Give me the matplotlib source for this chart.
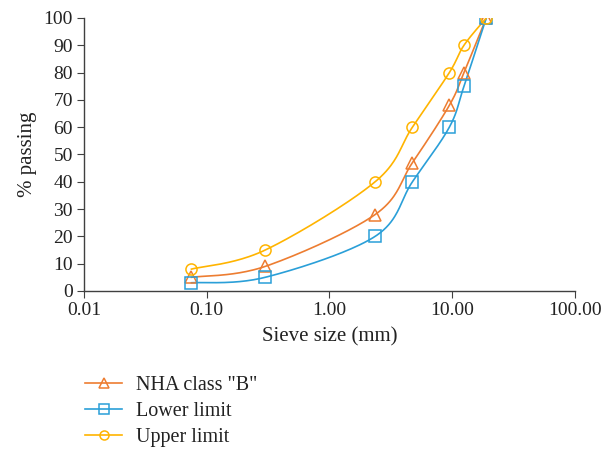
import numpy as np
import matplotlib
matplotlib.use("Agg")
import matplotlib.pyplot as plt
from matplotlib.lines import Line2D

# sieve sizes (mm) and % passing
sieve = [0.075, 0.3, 2.36, 4.75, 9.5, 12.5, 19.0]
nha = [5, 9, 28, 47, 68, 80, 100]
lower = [3, 5, 20, 40, 60, 75, 100]
upper = [8, 15, 40, 60, 80, 90, 100]

labels = ['NHA class "B"', "Lower limit", "Upper limit"]
colors = ["#ED7D31", "#2A9FD8", "#FFB400"]
markers = ["^", "s", "o"]


def smooth(xs, ys, n=40):
    # Catmull-Rom through points in (log x, y), like a spreadsheet smoothed line
    lx = np.log10(xs)
    ys = np.asarray(ys, float)
    px = np.concatenate([[lx[0]], lx, [lx[-1]]])
    py = np.concatenate([[ys[0]], ys, [ys[-1]]])
    outx, outy = [], []
    t = np.linspace(0, 1, n)
    for i in range(1, len(px) - 2):
        p0, p1, p2, p3 = [np.array([px[j], py[j]]) for j in (i - 1, i, i + 1, i + 2)]
        c1 = p1 + (p2 - p0) / 6
        c2 = p2 - (p3 - p1) / 6
        b = ((1 - t) ** 3)[:, None] * p1 + (3 * (1 - t) ** 2 * t)[:, None] * c1 \
            + (3 * (1 - t) * t ** 2)[:, None] * c2 + (t ** 3)[:, None] * p2
        outx.append(b[:, 0])
        outy.append(b[:, 1])
    return 10 ** np.concatenate(outx), np.concatenate(outy)


plt.rcParams["font.family"] = ["Liberation Serif", "DejaVu Serif"]
fig = plt.figure(figsize=(6.05, 4.49), dpi=100)
ax = fig.add_axes([0.139, 0.352, 0.811, 0.608])

handles = []
for vals, lab, c, m in zip([nha, lower, upper], labels, colors, markers):
    sx, sy = smooth(sieve, vals)
    ax.plot(sx, sy, color=c, lw=1.2, zorder=2)
    ax.plot(sieve, vals, ls="none", marker=m, ms=8, mfc="none", mec=c, mew=1.1, zorder=3)
    handles.append(Line2D([], [], color=c, lw=1.2, marker=m, ms=6.5, mfc="none", mec=c, mew=1.1))

ax.set_xscale("log")
ax.set_xlim(0.01, 100)
ax.set_ylim(0, 100)
ax.set_xticks([0.01, 0.1, 1, 10, 100])
ax.set_xticklabels(["0.01", "0.10", "1.00", "10.00", "100.00"])
ax.xaxis.set_minor_locator(matplotlib.ticker.NullLocator())
ax.set_yticks(range(0, 101, 10))

for s in ("top", "right"):
    ax.spines[s].set_visible(False)
for s in ("left", "bottom"):
    ax.spines[s].set_color("#404040")
    ax.spines[s].set_linewidth(1.0)
ax.tick_params(direction="out", length=5, color="#404040", labelsize=14, labelcolor="#222222", pad=3)

ax.set_xlabel("Sieve size (mm)", fontsize=15, color="#222222", labelpad=6)
ax.set_ylabel("% passing", fontsize=15, color="#222222", labelpad=5)

fig.legend(handles, labels, loc="upper left", bbox_to_anchor=(0.127, 0.18), frameon=False,
           fontsize=14.5, handlelength=1.85, labelspacing=0.33, handletextpad=0.7,
           labelcolor="#222222", borderaxespad=0)

fig.savefig("out.png", dpi=100)
